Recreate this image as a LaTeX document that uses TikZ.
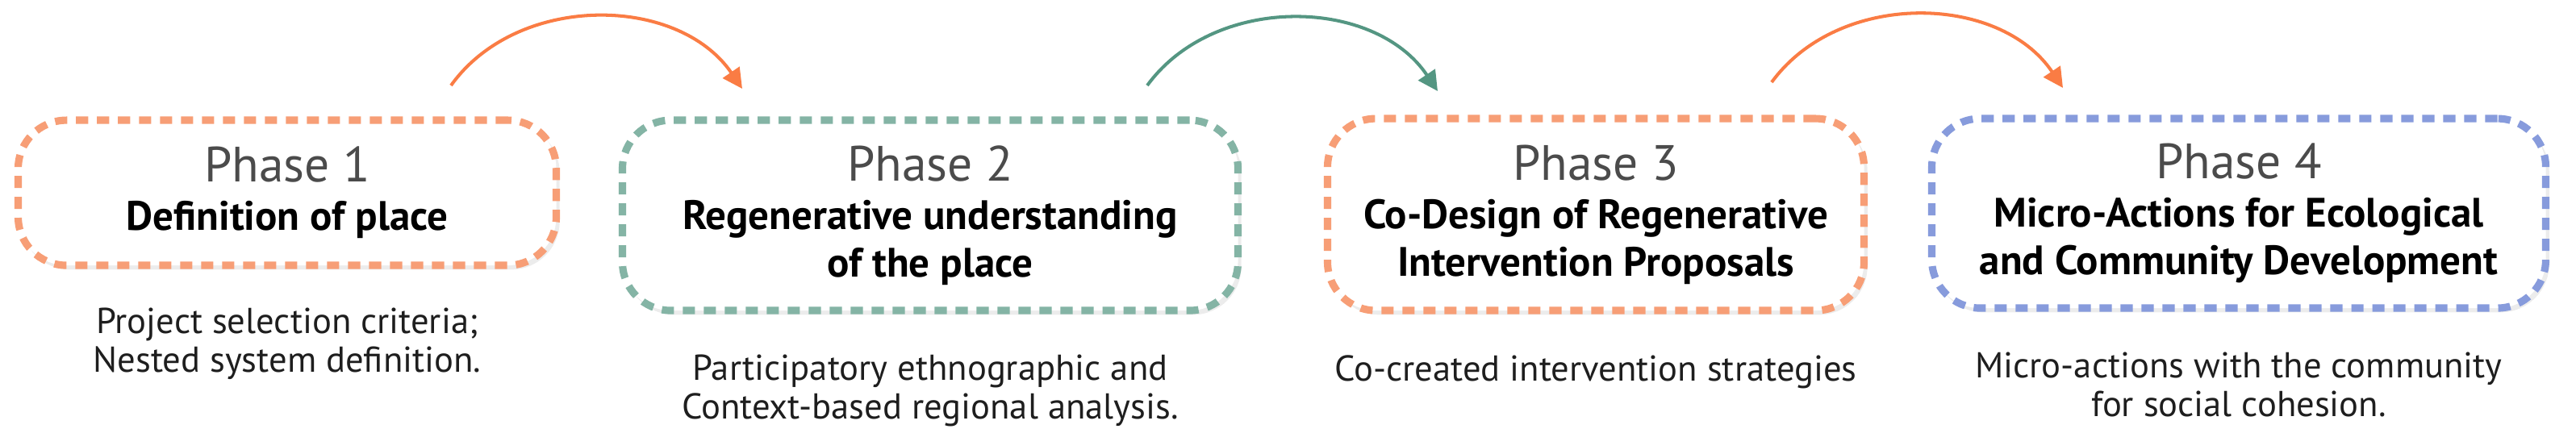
\documentclass[tikz,border=0pt]{standalone}
\usepackage{fontspec}
\setmainfont{PT Sans}
\usetikzlibrary{positioning, arrows.meta, shadows}
\definecolor{peach}{RGB}{247,158,118}
\definecolor{sage}{RGB}{132,180,165}
\definecolor{periwinkle}{RGB}{135,155,220}
\definecolor{arroworange}{RGB}{250,124,68}
\definecolor{arrowteal}{RGB}{84,150,130}
\definecolor{titlegray}{RGB}{75,75,75}
\definecolor{notetext}{RGB}{30,30,30}
\tikzset{
  phasebox/.style={rectangle, rounded corners=6mm, draw=#1, fill=white, line width=2.6pt,
    dash pattern=on 4.3pt off 3.1pt,
    drop shadow={shadow xshift=1.2pt, shadow yshift=-1.5pt, opacity=0.15},
    align=center, inner sep=2pt, anchor=north, font=\fontsize{14.5}{16.8}\selectfont\bfseries},
  note/.style={align=center, inner sep=0pt, text=notetext, font=\fontsize{12.7}{13.6}\selectfont},
  flow/.style={-{Triangle[length=7pt,width=7pt]}, line width=1.15pt, draw=#1},
}
\newcommand{\phasetitle}[1]{{\fontsize{17.5}{17.5}\selectfont\mdseries\color{titlegray}Phase #1}\\[0.3pt]}

\begin{document}
\begin{tikzpicture}
\useasboundingbox (0,0) rectangle (31.93,-5.32);

% phases
\node[phasebox=peach, minimum width=6.67cm, minimum height=1.80cm] (p1) at (3.56,-1.445)
  {\phasetitle{1}Definition of place};
\node[phasebox=sage, minimum width=7.63cm, minimum height=2.36cm] (p2) at (11.53,-1.445)
  {\phasetitle{2}Regenerative understanding\\ of the place};
\node[phasebox=peach, minimum width=6.65cm, minimum height=2.38cm] (p3) at (19.78,-1.425)
  {\phasetitle{3}Co-Design of Regenerative\\ Intervention Proposals};
\node[phasebox=periwinkle, minimum width=7.61cm, minimum height=2.35cm] (p4) at (27.75,-1.425)
  {\phasetitle{4}Micro-Actions for Ecological\\ and Community Development};

% notes under the boxes
\node[note, below=4.8mm of p1] (n1) {Project selection criteria;\\ Nested system definition.};
\node[note, below=5mm of p2] (n2) {Participatory ethnographic and\\ Context-based regional analysis.};
\node[note, below=5mm of p3] (n3) {Co-created intervention strategies};
\node[note, below=5mm of p4] (n4) {Micro-actions with the community\\ for social cohesion.};

% arrows between phases
\coordinate (s1) at (5.59,-1.06);  \coordinate (e1) at (9.20,-1.10);
\coordinate (s2) at (14.22,-1.06); \coordinate (e2) at (17.82,-1.13);
\coordinate (s3) at (21.96,-1.02); \coordinate (e3) at (25.57,-1.09);
\draw[flow=arroworange] (s1) to[bend left=55] (e1);
\draw[flow=arrowteal] (s2) to[bend left=55] (e2);
\draw[flow=arroworange] (s3) to[bend left=55] (e3);
\end{tikzpicture}
\end{document}
